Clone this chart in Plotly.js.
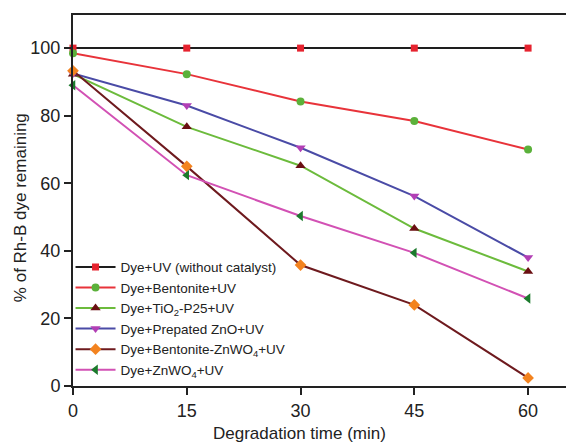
<!DOCTYPE html>
<html>
<head>
<meta charset="utf-8">
<script src="https://cdn.plot.ly/plotly-3.0.1.min.js"></script>
<style>html,body{margin:0;padding:0;background:#fff;}#chart{width:566px;height:443px;}</style>
</head>
<body>
<div id="chart"></div>
<script>
const time = [0, 15, 30, 45, 60];
const seriesNames = [
  "Dye+UV (without catalyst)",
  "Dye+Bentonite+UV",
  "Dye+TiO<sub>2</sub>-P25+UV",
  "Dye+Prepated ZnO+UV",
  "Dye+Bentonite-ZnWO<sub>4</sub>+UV",
  "Dye+ZnWO<sub>4</sub>+UV"
];
const dyeUV = [100, 100, 100, 100, 100];
const bentonite = [98.5, 92.3, 84.2, 78.4, 70.0];
const tio2 = [92.3, 76.7, 65.2, 46.6, 33.9];
const zno = [92.5, 83.0, 70.5, 56.2, 38.0];
const bentZnWO4 = [93.3, 65.0, 35.8, 24.0, 2.4];
const znwo4 = [89.0, 62.4, 50.3, 39.4, 25.9];
const yTicks = [0, 20, 40, 60, 80, 100];
const xTitle = "Degradation time (min)";
const yTitle = "% of Rh-B dye remaining";

const seriesValues = [dyeUV, bentonite, tio2, zno, bentZnWO4, znwo4];
const lineColors = ["#1e1e1e", "#e8333a", "#6cbb3c", "#4a4ba6", "#6e1a1e", "#d251b4"];
const markerColors = ["#e6232f", "#5bb13a", "#6a0f12", "#b23fb5", "#f3831f", "#1b7a2c"];
const markerSymbols = ["square", "circle", "triangle-up", "triangle-down", "diamond", "triangle-left"];
const markerSizes = [7, 8, 9, 9, 9, 9];

const traces = seriesValues.map((vals, i) => ({
  x: time,
  y: vals,
  name: seriesNames[i],
  type: "scatter",
  mode: "lines+markers",
  line: {color: lineColors[i], width: 2},
  marker: {color: markerColors[i], symbol: markerSymbols[i], size: markerSizes[i]},
  cliponaxis: false
}));

const layout = {
  width: 566,
  height: 443,
  margin: {l: 73, r: 0, t: 15, b: 57},
  paper_bgcolor: "#fff",
  plot_bgcolor: "#fff",
  font: {family: "Liberation Sans, Arial, sans-serif", color: "#222"},
  showlegend: true,
  legend: {
    x: -0.005, y: 0.362, xanchor: "left", yanchor: "top",
    bgcolor: "rgba(0,0,0,0)",
    font: {size: 13.5, color: "#222"},
    tracegroupgap: 0,
    itemwidth: 40
  },
  xaxis: {
    range: [0, 65],
    tickvals: time,
    ticks: "outside", ticklen: 7, tickwidth: 2, tickcolor: "#222",
    showline: true, linewidth: 2, linecolor: "#222",
    mirror: true,
    showgrid: false, zeroline: false,
    tickfont: {size: 18}
  },
  yaxis: {
    range: [0, 109.8],
    tickvals: yTicks,
    ticks: "outside", ticklen: 7, tickwidth: 2, tickcolor: "#222",
    showline: true, linewidth: 2, linecolor: "#222",
    showgrid: false, zeroline: false,
    tickfont: {size: 18}
  },
  annotations: [
    {text: xTitle, xref: "paper", yref: "paper", x: 0.4604, y: -0.129,
     xanchor: "center", yanchor: "middle", showarrow: false, font: {size: 17, color: "#222"}},
    {text: yTitle, xref: "paper", yref: "paper", x: -0.105, y: 0.48, textangle: -90,
     xanchor: "center", yanchor: "middle", showarrow: false, font: {size: 17, color: "#222"}}
  ]
};

Plotly.newPlot("chart", traces, layout, {displayModeBar: false, staticPlot: true});
</script>
</body>
</html>
